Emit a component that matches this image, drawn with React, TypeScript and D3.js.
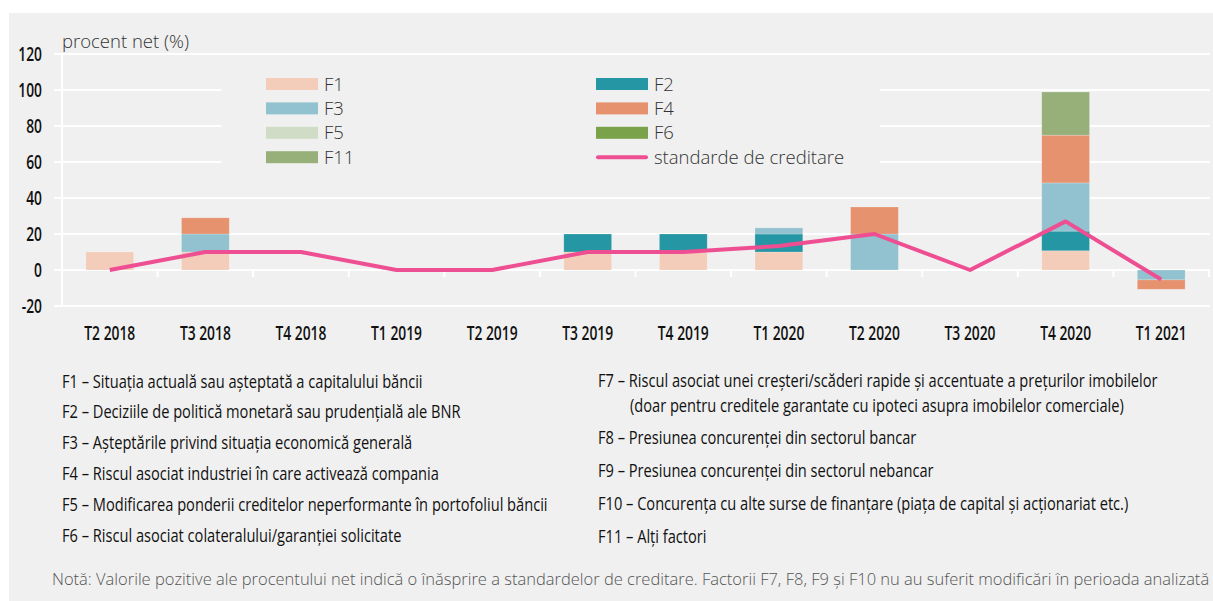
import * as d3 from "d3";

const categories = ["T2 2018", "T3 2018", "T4 2018", "T1 2019", "T2 2019", "T3 2019", "T4 2019", "T1 2020", "T2 2020", "T3 2020", "T4 2020", "T1 2021"];
const F1 = [10, 10, 0, 0, 0, 10, 10, 10, 0, 0, 10.7, 0];
const F2 = [0, 0, 0, 0, 0, 10, 10, 10, 0, 0, 10.9, 0];
const F3 = [0, 10, 0, 0, 0, 0, 0, 3.4, 20, 0, 26.8, -5.5];
const F4 = [0, 9, 0, 0, 0, 0, 0, 0, 15, 0, 26.5, -5.2];
const F5 = [0, 0, 0, 0, 0, 0, 0, 0, 0, 0, 0, 0];
const F6 = [0, 0, 0, 0, 0, 0, 0, 0, 0, 0, 0, 0];
const F11 = [0, 0, 0, 0, 0, 0, 0, 0, 0, 0, 24, 0];
const standarde = [0, 10, 10, 0, 0, 10, 10, 13.3, 20, 0, 27, -5.3];
const yTicks = [-20, 0, 20, 40, 60, 80, 100, 120];

const seriesNames = ["F1", "F2", "F3", "F4", "F5", "F6", "F11"];
const seriesValues = [F1, F2, F3, F4, F5, F6, F11];
const colors = ["#f3cdb9", "#2596a3", "#92c2cf", "#e6926f", "#d0dcc5", "#7aa24a", "#97b07a"];
const lineColor = "#ee4f92";

const leftNotes = [
  "F1 – Situația actuală sau așteptată a capitalului băncii",
  "F2 – Deciziile de politică monetară sau prudențială ale BNR",
  "F3 – Așteptările privind situația economică generală",
  "F4 – Riscul asociat industriei în care activează compania",
  "F5 – Modificarea ponderii creditelor neperformante în portofoliul băncii",
  "F6 – Riscul asociat colateralului/garanției solicitate",
];
const rightNotes = [
  "F7 – Riscul asociat unei creșteri/scăderi rapide și accentuate a prețurilor imobilelor",
  "(doar pentru creditele garantate cu ipoteci asupra imobilelor comerciale)",
  "F8 – Presiunea concurenței din sectorul bancar",
  "F9 – Presiunea concurenței din sectorul nebancar",
  "F10 – Concurența cu alte surse de finanțare (piața de capital și acționariat etc.)",
  "F11 – Alți factori",
];
const footnote =
  "Notă: Valorile pozitive ale procentului net indică o înăsprire a standardelor de creditare. Factorii F7, F8, F9 și F10 nu au suferit modificări în perioada analizată";

const W = 1213;
const H = 601;
const sans = "'Open Sans', 'Noto Sans', sans-serif";

// no condensed font installed, so squeeze the glyphs horizontally
function Narrow(props: { x: number; y: number; size: number; sx: number; weight?: number; anchor?: string; children: any }) {
  return (
    <text
      transform={`translate(${props.x},${props.y}) scale(${props.sx},1)`}
      dy="0.36em"
      textAnchor={props.anchor || "start"}
      fontFamily={sans}
      fontSize={props.size}
      fontWeight={props.weight || 400}
      fill="#111"
    >
      {props.children}
    </text>
  );
}

export default function App() {
  const x = d3.scaleBand().domain(categories).range([62, 1209]).padding(0);
  const y = d3.scaleLinear().domain([-20, 120]).range([306, 54]);
  const bw = x.bandwidth();

  const table = categories.map((c, i) => {
    const row: any = { cat: c };
    seriesNames.forEach((s, k) => (row[s] = seriesValues[k][i]));
    return row;
  });
  const stacked = d3.stack().keys(seriesNames).offset(d3.stackOffsetDiverging)(table);

  const line = d3
    .line<number>()
    .x((_, i) => (x(categories[i]) as number) + bw / 2)
    .y((d) => y(d));

  const legendItems = [
    { name: "F1", color: colors[0], col: 0, row: 0 },
    { name: "F3", color: colors[2], col: 0, row: 1 },
    { name: "F5", color: colors[4], col: 0, row: 2 },
    { name: "F11", color: colors[6], col: 0, row: 3 },
    { name: "F2", color: colors[1], col: 1, row: 0 },
    { name: "F4", color: colors[3], col: 1, row: 1 },
    { name: "F6", color: colors[5], col: 1, row: 2 },
  ];
  const legX = [266, 596];
  const legY = (r: number) => 84 + r * 24.4;

  const boundaries = categories.map((c) => (x(c) as number) + bw);

  return (
    <svg width={W} height={H} style={{ position: "absolute", left: 0, top: 0 }}>
      <rect x={0} y={0} width={W} height={H} fill="#ffffff" />
      <rect x={9} y={13} width={W - 9} height={H - 13} fill="#f0f0f0" />

      {/* gridlines */}
      {yTicks.map((t) => (
        <line key={t} x1={54} x2={1210} y1={y(t)} y2={y(t)} stroke="#ffffff" strokeWidth={2} />
      ))}
      <line x1={62} x2={62} y1={y(120)} y2={y(-20)} stroke="#ffffff" strokeWidth={2} />
      {boundaries.map((b, i) => (
        <line key={i} x1={b} x2={b} y1={y(0)} y2={y(0) + 7} stroke="#ffffff" strokeWidth={2} />
      ))}

      {/* legend background hides gridlines */}
      <rect x={221} y={64} width={659} height={118} fill="#f0f0f0" />

      {/* y tick labels */}
      {yTicks.map((t) => (
        <Narrow key={t} x={42} y={y(t)} size={20} sx={0.69} weight={600} anchor="end">
          {t}
        </Narrow>
      ))}
      <text x={62} y={48} fontFamily={sans} fontWeight={300} fontSize={18.5} fill="#333">
        procent net (%)
      </text>

      {/* bars */}
      {stacked.map((s, k) => (
        <g key={s.key} fill={colors[k]}>
          {s.map((d, i) =>
            d[1] - d[0] === 0 ? null : (
              <rect
                key={i}
                x={(x(categories[i]) as number) + bw / 4}
                width={bw / 2}
                y={y(Math.max(d[0], d[1]))}
                height={Math.abs(y(d[0]) - y(d[1]))}
                stroke="#ffffff"
                strokeOpacity={0.25}
                strokeWidth={0.8}
              />
            )
          )}
        </g>
      ))}

      <path d={line(standarde) || ""} fill="none" stroke={lineColor} strokeWidth={4} strokeLinejoin="round" />

      {/* x labels */}
      {categories.map((c) => (
        <Narrow key={c} x={(x(c) as number) + bw / 2} y={333} size={19.5} sx={0.71} weight={600} anchor="middle">
          {c}
        </Narrow>
      ))}

      {/* legend */}
      {legendItems.map((l) => (
        <g key={l.name}>
          <rect x={legX[l.col]} y={legY(l.row) - 6} width={52} height={12} fill={l.color} />
          <text x={legX[l.col] + 58} y={legY(l.row)} dy="0.36em" fontFamily={sans} fontWeight={300} fontSize={18.5} fill="#333">
            {l.name}
          </text>
        </g>
      ))}
      <line x1={598} x2={646} y1={legY(3)} y2={legY(3)} stroke={lineColor} strokeWidth={4} strokeLinecap="round" />
      <text x={654} y={legY(3)} dy="0.36em" fontFamily={sans} fontWeight={300} fontSize={18.5} fill="#333">
        standarde de creditare
      </text>

      {/* factor descriptions */}
      {leftNotes.map((t, i) => (
        <Narrow key={i} x={62} y={[381, 411, 442, 473, 504, 535][i]} size={19} sx={0.77} weight={500}>
          {t}
        </Narrow>
      ))}
      {rightNotes.map((t, i) => (
        <Narrow key={i} x={i === 1 ? 630 : 598} y={[380, 405, 437, 470, 503, 536][i]} size={19} sx={0.77} weight={500}>
          {t}
        </Narrow>
      ))}
      <text x={52} y={585} fontFamily={sans} fontWeight={300} fontSize={16.5} fill="#555">
        {footnote}
      </text>
    </svg>
  );
}
